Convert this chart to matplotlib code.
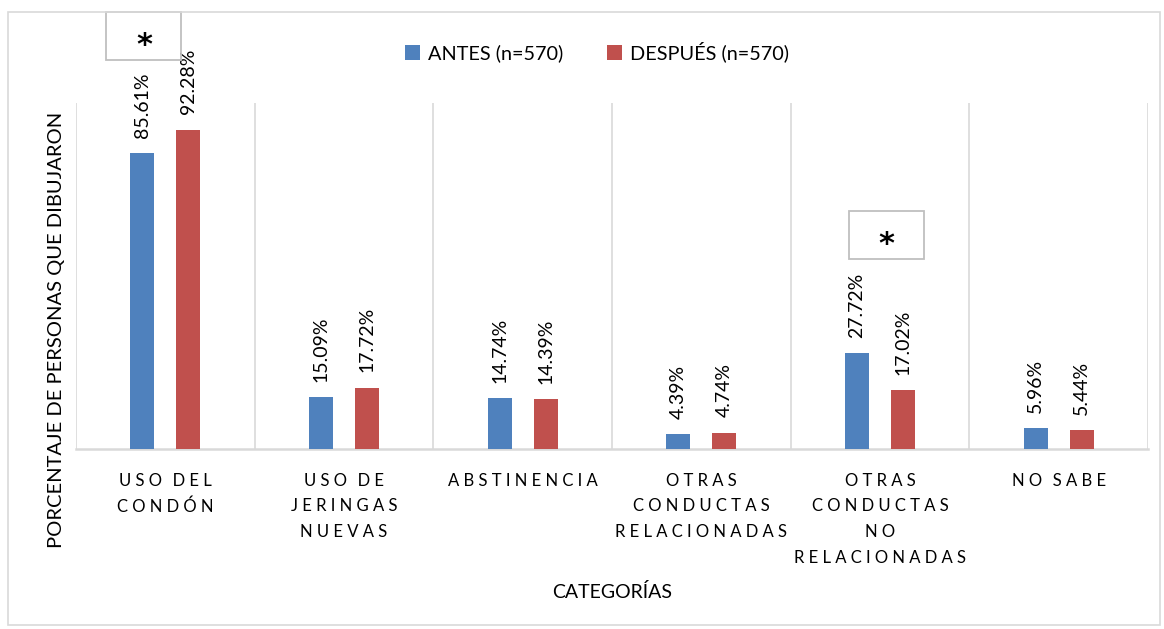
import matplotlib
matplotlib.use("Agg")
import matplotlib.pyplot as plt
from matplotlib.patches import Rectangle
import numpy as np

categories = ["USO DEL\nCONDÓN", "USO DE\nJERINGAS\nNUEVAS", "ABSTINENCIA",
              "OTRAS\nCONDUCTAS\nRELACIONADAS", "OTRAS\nCONDUCTAS\nNO\nRELACIONADAS", "NO SABE"]
antes = [85.61, 15.09, 14.74, 4.39, 27.72, 5.96]
despues = [92.28, 17.72, 14.39, 4.74, 17.02, 5.44]
series_names = ["ANTES (n=570)", "DESPUÉS (n=570)"]
significant = [0, 4]

BLUE = "#4F81BD"
RED = "#C0504D"
GRID = "#D9D9D9"
FAM = ["Lato", "DejaVu Sans"]
plt.rcParams['font.family'] = FAM

W, H = 1164, 629
fig = plt.figure(figsize=(W / 100, H / 100), dpi=100)
ax = fig.add_axes([76 / W, 1 - 449 / H, (1148 - 76) / W, (449 - 103) / H])

x = np.arange(len(categories))
bw = 0.134
off = 0.129
b1 = ax.bar(x - off, antes, bw, color=BLUE, label=series_names[0], zorder=3)
b2 = ax.bar(x + off, despues, bw, color=RED, label=series_names[1], zorder=3)

ax.set_xlim(-0.5, len(categories) - 0.5)
ax.set_ylim(0, 100)

for bars, vals in ((b1, antes), (b2, despues)):
    for r, v in zip(bars, vals):
        ax.annotate(f"{v:.2f}%", (r.get_x() + r.get_width() / 2, v),
                    xytext=(0, 11), textcoords="offset points",
                    rotation=90, ha="center", va="bottom", fontsize=14,
                    color="#000000", annotation_clip=False)

# vertical separators
for xs in np.arange(-0.5, len(categories), 1.0):
    ax.axvline(xs, color=GRID, lw=1.2, zorder=1)

for s in ["top", "right", "left"]:
    ax.spines[s].set_visible(False)
ax.spines["bottom"].set_color(GRID)
ax.spines["bottom"].set_linewidth(1.8)
ax.set_yticks([])

def spaced(s):
    gap = "\u2009\u2009"
    out = []
    for line in s.split("\n"):
        words = line.split(" ")
        out.append((gap + " \u2009").join(gap.join(w) for w in words))
    return "\n".join(out)

ax.set_xticks(x)
ax.set_xticklabels([spaced(c) for c in categories], fontsize=12, linespacing=1.75,
                   va="top")
ax.tick_params(axis="x", length=0, pad=17, colors="#000000")

# significance boxes
box_y = {0: 112.5, 4: 55.0}
box_dx = {0: -0.12, 4: 0.035}
for i in significant:
    cx = x[i] + box_dx[i]
    y0 = box_y[i]
    rect = Rectangle((cx - 0.21, y0), 0.42, 13.9, fill=False, edgecolor="#BFBFBF",
                     lw=1.3, clip_on=False, zorder=4)
    ax.add_patch(rect)
    ax.text(cx, y0 + 4.0, "*", ha="center", va="center", fontsize=22,
            fontweight="bold", family="DejaVu Sans", clip_on=False)

leg = ax.legend(loc="center", bbox_to_anchor=(597 / W, 1 - 52 / H),
                bbox_transform=fig.transFigure, ncol=2, frameon=False,
                fontsize=14.3, handlelength=0.75, handleheight=0.75,
                handletextpad=0.4, columnspacing=2.2)

fig.text(57 / W, 1 - 330 / H, "PORCENTAJE DE PERSONAS QUE DIBUJARON", rotation=90,
         ha="center", va="center", fontsize=14.5)
fig.text(612 / W, 1 - 592 / H, "CATEGORÍAS", ha="center", va="center", fontsize=14)

fig.patches.append(Rectangle((8 / W, 1 - 625 / H), (1160 - 8) / W, (625 - 12) / H,
                             transform=fig.transFigure, fill=False,
                             edgecolor=GRID, lw=1.2))

fig.savefig("out.png", dpi=100, facecolor="white")
